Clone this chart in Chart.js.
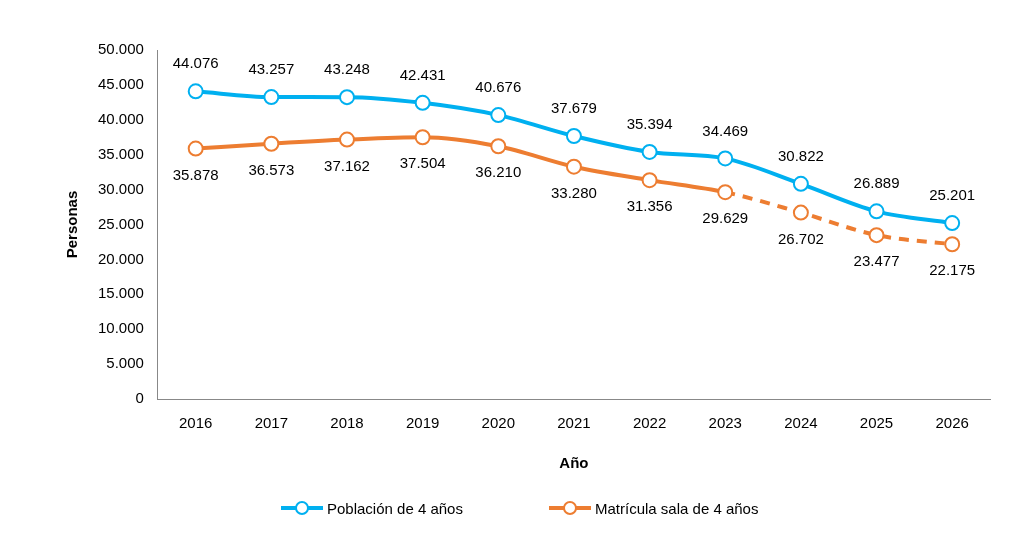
<!DOCTYPE html>
<html><head><meta charset="utf-8">
<script src="https://cdn.jsdelivr.net/npm/chart.js@4/dist/chart.umd.min.js"></script>
<style>
body{margin:0;background:#fff;font-family:"Liberation Sans",Arial,sans-serif;}
#wrap{position:relative;width:1014px;height:550px;}
.leg{position:absolute;top:498px;font-size:15px;color:#000;display:flex;align-items:center;}
.leg svg{margin-right:4px;}
</style></head><body>
<div id="wrap"><canvas id="c" width="1014" height="550"></canvas>
<div class="leg" style="left:281px"><svg width="42" height="20"><line x1="0" y1="10" x2="42" y2="10" stroke="#00B0F0" stroke-width="4"/><circle cx="21" cy="10" r="6" fill="#fff" stroke="#00B0F0" stroke-width="2"/></svg>Población de 4 años</div>
<div class="leg" style="left:549px"><svg width="42" height="20"><line x1="0" y1="10" x2="42" y2="10" stroke="#ED7D31" stroke-width="4"/><circle cx="21" cy="10" r="6" fill="#fff" stroke="#ED7D31" stroke-width="2"/></svg>Matrícula sala de 4 años</div>
</div>
<script>
const years=["2016","2017","2018","2019","2020","2021","2022","2023","2024","2025","2026"];
const poblacion=[44076,43257,43248,42431,40676,37679,35394,34469,30822,26889,25201];
const matricula=[35878,36573,37162,37504,36210,33280,31356,29629,26702,23477,22175];
const fmt=v=>v.toLocaleString('de-DE');
const labelPlugin={id:'lbl',afterDatasetsDraw(ch){const ctx=ch.ctx;ctx.save();ctx.font='15px "Liberation Sans", Arial';ctx.fillStyle='#000';ctx.textAlign='center';ctx.textBaseline='middle';
ch.data.datasets.forEach((ds,i)=>{ch.getDatasetMeta(i).data.forEach((p,j)=>{ctx.fillText(fmt(ds.data[j]),p.x,p.y+(i===0?-27:27));});});ctx.restore();}};
new Chart(document.getElementById('c'),{type:'line',
data:{labels:years,datasets:[
{data:poblacion,borderColor:'#00B0F0',borderWidth:4,pointRadius:7,pointBorderWidth:2,pointBackgroundColor:'#fff',pointBorderColor:'#00B0F0',cubicInterpolationMode:'monotone'},
{data:matricula,borderColor:'#ED7D31',borderWidth:4,pointRadius:7,pointBorderWidth:2,pointBackgroundColor:'#fff',pointBorderColor:'#ED7D31',cubicInterpolationMode:'monotone',
 segment:{borderDash:c=>c.p0DataIndex>=7?[10,8]:undefined}}]},
options:{responsive:false,animation:false,layout:{padding:{left:60,right:24,top:50,bottom:73}},
plugins:{legend:{display:false},tooltip:{enabled:false}},
scales:{
x:{offset:true,grid:{display:false},border:{color:'#888'},ticks:{color:'#000',font:{size:15,family:'"Liberation Sans", Arial'},padding:8},
 title:{display:true,text:'Año',color:'#000',font:{size:15,weight:'bold',family:'"Liberation Sans", Arial'},padding:{top:14}}},
y:{min:0,max:50000,grid:{display:false},border:{color:'#888'},ticks:{stepSize:5000,color:'#000',callback:v=>fmt(v),font:{size:15,family:'"Liberation Sans", Arial'},padding:6},
 title:{display:true,text:'Personas',color:'#000',font:{size:15,weight:'bold',family:'"Liberation Sans", Arial'},padding:{bottom:10}}}}},
plugins:[labelPlugin]});
</script></body></html>
